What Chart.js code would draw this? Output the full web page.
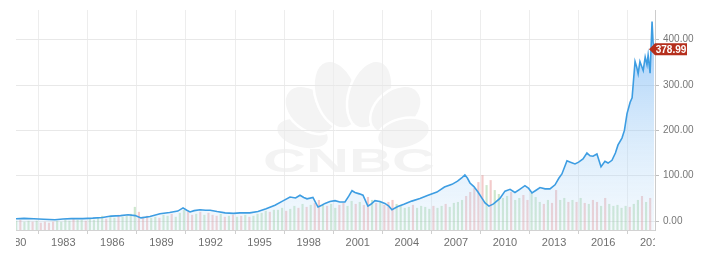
<!DOCTYPE html>
<html>
<head>
<meta charset="utf-8">
<title>Stock chart</title>
<script src="https://cdn.jsdelivr.net/npm/chart.js@4/dist/chart.umd.min.js"></script>
<style>
html, body { margin: 0; padding: 0; background: #fff; }
</style>
</head>
<body>
<canvas id="priceChart" width="710" height="260"></canvas>
<script>
// price line (decimal years / close)
var priceDates = [
    1980.11, 1980.6, 1981.2, 1981.8, 1982.49, 1982.98, 1983.5, 1984.2, 1984.8, 1985.4,
    1985.92, 1986.5, 1986.96, 1987.4, 1987.75, 1988.3, 1988.91, 1989.5, 1990.0, 1990.32,
    1990.55, 1990.75, 1991.0, 1991.36, 1991.7, 1991.98, 1992.4, 1992.89, 1993.4, 1993.8,
    1994.4, 1994.9, 1995.4, 1995.94, 1996.4, 1996.86, 1997.2, 1997.47, 1997.7, 1997.9,
    1998.26, 1998.57, 1998.8, 1999.0, 1999.3, 1999.61, 1999.9, 2000.22, 2000.45, 2000.65,
    2000.83, 2001.1, 2001.32, 2001.62, 2001.8, 2002.05, 2002.35, 2002.66, 2002.9, 2003.09,
    2003.45, 2003.82, 2004.3, 2004.8, 2005.3, 2005.84, 2006.3, 2006.76, 2007.1, 2007.35,
    2007.55, 2007.7, 2007.86, 2008.1, 2008.35, 2008.6, 2008.78, 2009.02, 2009.3, 2009.69,
    2010.0, 2010.31, 2010.61, 2010.9, 2011.22, 2011.45, 2011.65, 2011.9, 2012.14, 2012.45,
    2012.75, 2013.06, 2013.3, 2013.48, 2013.79, 2014.0, 2014.28, 2014.5, 2014.77, 2015.01,
    2015.2, 2015.38, 2015.62, 2015.87, 2016.11, 2016.3, 2016.54, 2016.75, 2016.91, 2017.15,
    2017.3, 2017.46, 2017.65, 2017.77, 2017.95, 2018.05, 2018.14, 2018.25, 2018.32, 2018.45,
    2018.57, 2018.68, 2018.75, 2018.87, 2018.99, 2019.05, 2019.12
];
var priceValues = [
    5, 6, 5, 4, 3, 4.5, 5.5, 5.5, 6.5, 8,
    11, 12, 14, 12, 7, 10, 16, 19, 22, 29,
    24, 20, 23, 25, 24, 24, 21, 18, 17, 18,
    18, 21, 27, 35, 44, 53, 51, 57, 52, 49,
    52, 31, 35, 39, 43, 45, 42, 42, 55, 67,
    63, 60, 57, 33, 37, 45, 43, 39, 33, 25,
    32, 37, 44, 50, 57, 64, 75, 81, 88, 95,
    102, 95, 84, 76, 64, 50, 40, 33, 38, 50,
    66, 70, 63, 70, 78, 72, 62, 68, 74, 71,
    71, 80, 95, 104, 133, 130, 126, 130, 137, 150,
    144, 143, 148, 120, 132, 128, 134, 150, 168, 183,
    200, 237, 262, 272, 352, 340, 325, 352, 345, 332,
    362, 345, 366, 326, 440, 395, 378.99
];
var lastPrice = 378.99;

// quarterly volume, 1980 .. 2018, four per year
var volumeYears = [];
for (var yr = 1980; yr <= 2018; yr++) volumeYears.push(yr);
var volumeValues = [
    9, 10, 8, 9,    8, 9, 7, 8,     7, 8, 9, 8,     10, 9, 11, 10,  10, 9, 11, 10,
    12, 14, 11, 13, 12, 15, 13, 14, 16, 23, 18, 13, 14, 12, 13, 12, 15, 14, 16, 13,
    17, 20, 18, 15, 16, 18, 15, 17, 15, 14, 16, 13, 14, 15, 13, 14, 15, 13, 14, 16,
    17, 19, 18, 20, 20, 22, 19, 21, 24, 22, 26, 23, 25, 27, 30, 26, 24, 26, 22, 25,
    27, 24, 29, 26, 28, 25, 33, 30, 27, 29, 25, 28, 30, 26, 24, 22, 23, 25, 22, 24,
    23, 21, 24, 22, 24, 26, 23, 27, 28, 30, 34, 38, 42, 48, 55, 45, 50, 40, 36, 32,
    34, 38, 30, 32, 35, 30, 37, 33, 28, 26, 30, 27, 40, 30, 32, 28, 30, 28, 32, 27,
    26, 30, 28, 24, 32, 26, 24, 25, 22, 24, 23, 26, 30, 34, 28, 32
];
// g = up quarter, r = down quarter
var volumeUpDown =
    "grgg" + "rgrr" + "rrgg" + "ggrg" + "grgg" + "ggrg" + "grgg" + "ggrr" + "rggr" + "ggrg" +
    "ggrr" + "grgr" + "rrgr" + "grgr" + "grgg" + "ggrg" + "ggrg" + "grgr" + "grrg" + "rggr" +
    "rggr" + "grrg" + "rgrr" + "rggg" + "grgg" + "ggrg" + "grgg" + "ggrr" + "rrrg" + "rggg" +
    "grgg" + "rrgg" + "grgr" + "rggr" + "grgr" + "grrg" + "rggg" + "ggrg" + "grgr";

var xTickYears = [1980, 1983, 1986, 1989, 1992, 1995, 1998, 2001, 2004, 2007, 2010, 2013, 2016, 2019];
var yTickValues = [0, 100, 200, 300, 400];

var linePoints = priceDates.map(function (d, i) { return { x: d, y: priceValues[i] }; });
var volPoints = [];
var volColors = [];
volumeYears.forEach(function (yr, yi) {
    for (var q = 0; q < 4; q++) {
        var k = yi * 4 + q;
        volPoints.push({ x: yr + 0.125 + q * 0.25, y: volumeValues[k] });
        volColors.push(volumeUpDown[k] == 'g' ? 'rgba(130, 195, 130, 0.4)' : 'rgba(225, 125, 125, 0.4)');
    }
});

// faint peacock + CNBC in the background
var watermark = {
    id: 'watermark',
    beforeDraw: function (chart) {
        var ctx = chart.ctx;
        var bx = 353, by = 146;
        // angle, distance, half length, half width
        var feathers = [[166, 52, 27, 15], [140, 56, 29, 20], [108, 54, 35, 21],
                        [72, 54, 35, 21], [40, 56, 29, 20], [14, 52, 27, 15]];
        ctx.save();
        feathers.forEach(function (f) {
            var a = f[0] * Math.PI / 180;
            ctx.beginPath();
            ctx.ellipse(bx + Math.cos(a) * f[1], by - Math.sin(a) * f[1], f[2], f[3], -a, 0, Math.PI * 2);
            ctx.fillStyle = '#f4f4f4';
            ctx.fill();
            ctx.lineWidth = 2.5;
            ctx.strokeStyle = '#ffffff';
            ctx.stroke();
        });
        // wide, flat wordmark
        ctx.font = 'bold 34px "Liberation Sans", Arial, sans-serif';
        var w = ctx.measureText('CNBC').width;
        ctx.translate(349, 172);
        ctx.scale(172 / w, 1);
        ctx.fillStyle = '#f3f3f3';
        ctx.textAlign = 'center';
        ctx.textBaseline = 'alphabetic';
        ctx.fillText('CNBC', 0, 0);
        ctx.restore();
    }
};

// year labels, clipped to the plot width like the original
var yearLabels = {
    id: 'yearLabels',
    afterDraw: function (chart) {
        var ctx = chart.ctx, area = chart.chartArea, xs = chart.scales.x;
        ctx.save();
        ctx.beginPath();
        ctx.rect(area.left, area.bottom, area.right - area.left, 40);
        ctx.clip();
        ctx.font = '11px "Liberation Sans", Arial, sans-serif';
        ctx.fillStyle = '#6f6f6f';
        ctx.textAlign = 'center';
        ctx.textBaseline = 'middle';
        xTickYears.forEach(function (yr) {
            ctx.fillText(String(yr), xs.getPixelForValue(yr), area.bottom + 13);
        });
        ctx.restore();
    }
};

// red last-price flag
var priceTag = {
    id: 'priceTag',
    afterDraw: function (chart) {
        var ctx = chart.ctx, area = chart.chartArea;
        var y = chart.scales.y.getPixelForValue(lastPrice);
        var tip = area.right - 6, x1 = area.right, x2 = area.right + 32, h = 6;
        ctx.save();
        ctx.fillStyle = '#b52f1d';
        ctx.beginPath();
        ctx.moveTo(tip, y);
        ctx.lineTo(x1, y - h);
        ctx.lineTo(x2, y - h);
        ctx.lineTo(x2, y + h);
        ctx.lineTo(x1, y + h);
        ctx.closePath();
        ctx.fill();
        ctx.fillStyle = '#ffffff';
        ctx.font = 'bold 10px "Liberation Sans", Arial, sans-serif';
        ctx.textAlign = 'center';
        ctx.textBaseline = 'middle';
        ctx.fillText(lastPrice.toFixed(2), (x1 + x2) / 2, y + 0.5);
        ctx.restore();
    }
};

var chart = new Chart(document.getElementById('priceChart').getContext('2d'), {
    type: 'line',
    data: {
        datasets: [{
            type: 'line',
            data: linePoints,
            yAxisID: 'y',
            borderColor: '#3d9de2',
            borderWidth: 1.6,
            pointRadius: 0,
            tension: 0,
            fill: 'start',
            backgroundColor: function (context) {
                var area = context.chart.chartArea;
                if (!area) return 'rgba(150, 200, 245, 0.4)';
                var g = context.chart.ctx.createLinearGradient(0, area.top, 0, area.bottom);
                g.addColorStop(0, 'rgba(90, 165, 245, 0.62)');
                g.addColorStop(0.55, 'rgba(150, 200, 245, 0.38)');
                g.addColorStop(1, 'rgba(210, 232, 250, 0.25)');
                return g;
            }
        }, {
            type: 'bar',
            data: volPoints,
            yAxisID: 'yv',
            backgroundColor: volColors,
            barThickness: 1.5,
            borderWidth: 0
        }]
    },
    options: {
        responsive: false,
        animation: false,
        layout: { padding: { left: 16, top: 8, right: 0, bottom: 0 } },
        plugins: {
            legend: { display: false },
            tooltip: { enabled: false }
        },
        scales: {
            x: {
                type: 'linear',
                min: 1980.11,
                max: 2019.17,
                offset: false,
                afterBuildTicks: function (scale) {
                    scale.ticks = xTickYears.filter(function (v) { return v >= scale.min && v <= scale.max; })
                        .map(function (v) { return { value: v }; });
                },
                afterFit: function (scale) { scale.height = 30; },
                ticks: { display: false },
                grid: { color: '#ededed', tickLength: 4, tickColor: '#cfcfcf' },
                border: { display: true, color: '#d2d2d2' }
            },
            y: {
                position: 'right',
                min: -19.7,
                max: 465.6,
                afterBuildTicks: function (scale) {
                    scale.ticks = yTickValues.map(function (v) { return { value: v }; });
                },
                afterFit: function (scale) { scale.width = 55; },
                ticks: {
                    padding: 4,
                    color: '#777777',
                    font: { family: '"Liberation Sans", Arial, sans-serif', size: 10 },
                    callback: function (v) { return Number(v).toFixed(2); }
                },
                grid: { color: '#e8e8e8', tickLength: 4, tickColor: '#bdbdbd' },
                border: { display: true, color: '#cccccc' }
            },
            yv: {
                display: false,
                min: 0,
                max: 222
            }
        }
    },
    plugins: [watermark, yearLabels, priceTag]
});
</script>
</body>
</html>
